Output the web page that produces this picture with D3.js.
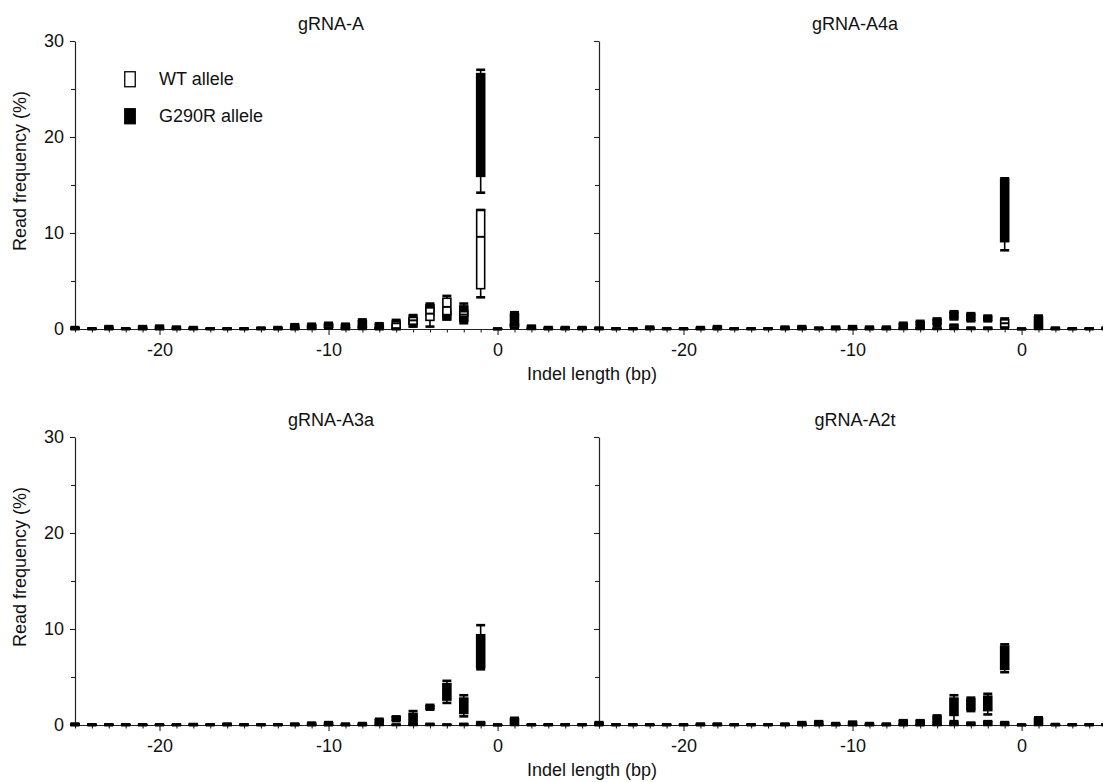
<!DOCTYPE html>
<html><head><meta charset="utf-8">
<script src="https://cdn.jsdelivr.net/npm/d3@7"></script>
<style>
body{margin:0;background:#fff}
svg{display:block}
text{font-family:"Liberation Sans",Arial,Helvetica,sans-serif;fill:#111}
</style>
</head><body>
<svg id="chart" width="1103" height="782"></svg>
<script>
// ---------- data ----------
const indelLengths = [-25,-24,-23,-22,-21,-20,-19,-18,-17,-16,-15,-14,-13,-12,-11,-10,-9,-8,-7,-6,-5,-4,-3,-2,-1,0,1,2,3,4,5];
const xTickValues = [-25,-24,-23,-22,-21,-20,-19,-18,-17,-16,-15,-14,-13,-12,-11,-10,-9,-8,-7,-6,-5,-4,-3,-2,-1,0,1,2,3,4,5,6];
const xLabelTicks = [-20,-10,0];
const yTickValues = [0,5,10,15,20,25,30];
const yLabelTicks = [0,10,20,30];
const panelTitles = ["gRNA-A","gRNA-A4a","gRNA-A3a","gRNA-A2t"];
const seriesNames = ["WT allele","G290R allele"];
const xAxisTitle = "Indel length (bp)";
const yAxisTitle = "Read frequency (%)";

// each entry: [min, q1, median, q3, max] read frequency (%), one per indel length
const gA_WT = [
[0,0,0.02,0.04,0.05],[0,0,0.02,0.04,0.05],[0,0,0.02,0.04,0.05],[0,0,0.02,0.04,0.05],[0,0,0.02,0.04,0.05],
[0,0,0.02,0.04,0.05],[0,0,0.02,0.04,0.05],[0,0,0.02,0.04,0.05],[0,0,0.02,0.04,0.05],[0,0,0.02,0.04,0.05],
[0,0,0.02,0.04,0.05],[0,0,0.02,0.04,0.05],[0,0,0.02,0.04,0.05],[0,0.05,0.1,0.15,0.2],[0.05,0.1,0.2,0.3,0.4],
[0.1,0.2,0.35,0.45,0.55],[0,0.05,0.1,0.15,0.2],[0,0.05,0.1,0.2,0.3],[0,0.05,0.1,0.15,0.2],[0,0.1,0.6,0.8,0.95],
[0.25,0.5,0.9,1.2,1.45],[0.25,0.9,1.6,2.2,2.4],[1.0,1.5,2.3,3.2,3.45],[0.9,1.3,1.5,1.8,2.0],[3.3,4.2,9.6,12.4,12.4],
[0,0,0,0,0],[0.1,0.2,0.35,0.5,0.6],[0,0,0.02,0.04,0.05],[0,0,0.02,0.04,0.05],[0,0,0.02,0.04,0.05],[0,0,0.02,0.04,0.05]
];
const gA_G290R = [
[0,0,0.05,0.15,0.2],[0,0,0,0.03,0.05],[0,0.05,0.15,0.25,0.3],[0,0,0,0.03,0.05],[0,0.05,0.15,0.25,0.3],
[0,0.05,0.2,0.3,0.35],[0,0.05,0.15,0.2,0.25],[0,0.03,0.1,0.15,0.2],[0,0,0,0.03,0.05],[0,0,0,0.03,0.05],
[0,0,0,0.03,0.05],[0,0.03,0.08,0.12,0.15],[0,0.05,0.1,0.15,0.2],[0,0.1,0.25,0.4,0.5],[0,0.1,0.3,0.45,0.55],
[0.05,0.15,0.3,0.55,0.65],[0,0.1,0.3,0.45,0.55],[0.05,0.2,0.5,0.85,1.0],[0,0.1,0.35,0.5,0.6],[0,0.05,0.2,0.4,0.5],
[0.3,0.5,0.8,1.1,1.3],[1.5,1.8,2.1,2.5,2.65],[1.0,1.2,1.5,1.8,2.0],[0.6,0.8,1.6,2.4,2.65],[14.2,15.9,23.2,26.6,27.0],
[0,0,0,0.02,0.05],[0.1,0.3,0.9,1.6,1.75],[0.05,0.1,0.2,0.3,0.35],[0,0.05,0.1,0.15,0.2],[0,0.05,0.1,0.15,0.2],[0,0.05,0.1,0.15,0.2]
];
const gA4a_WT = [
[0,0,0.02,0.04,0.05],[0,0,0.02,0.04,0.05],[0,0,0.02,0.04,0.05],[0,0,0.02,0.04,0.05],[0,0,0.02,0.04,0.05],
[0,0,0.02,0.04,0.05],[0,0,0.02,0.04,0.05],[0,0,0.02,0.04,0.05],[0,0,0.02,0.04,0.05],[0,0,0.02,0.04,0.05],
[0,0,0.02,0.04,0.05],[0,0,0.02,0.04,0.05],[0,0,0.02,0.04,0.05],[0,0,0.02,0.04,0.05],[0,0,0.02,0.04,0.05],
[0,0,0.02,0.04,0.05],[0,0,0.02,0.04,0.05],[0,0,0.02,0.04,0.05],[0,0,0.02,0.04,0.05],[0,0,0.02,0.04,0.05],
[0,0,0.02,0.04,0.05],[0,0.05,0.2,0.4,0.45],[0,0,0.05,0.1,0.15],[0,0,0.05,0.1,0.15],[0.1,0.2,0.6,0.95,1.1],
[0,0,0,0,0],[0,0.05,0.1,0.2,0.25],[0,0,0.02,0.04,0.05],[0,0,0.02,0.04,0.05],[0,0,0.02,0.04,0.05],[0,0,0.02,0.04,0.05]
];
const gA4a_G290R = [
[0,0,0.05,0.1,0.15],[0,0,0,0.03,0.05],[0,0,0,0.03,0.05],[0,0.05,0.1,0.2,0.25],[0,0,0,0.03,0.05],
[0,0,0,0.03,0.05],[0,0.05,0.1,0.15,0.2],[0,0.05,0.15,0.25,0.3],[0,0,0,0.03,0.05],[0,0,0,0.03,0.05],
[0,0,0,0.03,0.05],[0,0.05,0.1,0.2,0.25],[0,0.05,0.15,0.25,0.3],[0,0.03,0.08,0.12,0.15],[0,0.05,0.1,0.2,0.25],
[0,0.05,0.15,0.25,0.3],[0,0.05,0.1,0.2,0.25],[0,0.05,0.1,0.2,0.25],[0.1,0.2,0.4,0.55,0.65],[0.05,0.2,0.5,0.75,0.85],
[0.3,0.5,0.8,1.0,1.1],[1.0,1.1,1.5,1.75,1.85],[0.8,0.9,1.2,1.55,1.65],[0.8,0.9,1.1,1.3,1.4],[8.2,9.1,14.0,15.6,15.7],
[0,0,0,0.02,0.05],[0.05,0.3,0.8,1.25,1.4],[0,0.03,0.08,0.12,0.15],[0,0,0.02,0.04,0.05],[0,0,0.02,0.04,0.05],[0,0,0.05,0.1,0.15]
];
const gA3a_WT = [
[0,0,0.02,0.04,0.05],[0,0,0.02,0.04,0.05],[0,0,0.02,0.04,0.05],[0,0,0.02,0.04,0.05],[0,0,0.02,0.04,0.05],
[0,0,0.02,0.04,0.05],[0,0,0.02,0.04,0.05],[0,0,0.02,0.04,0.05],[0,0,0.02,0.04,0.05],[0,0,0.02,0.04,0.05],
[0,0,0.02,0.04,0.05],[0,0,0.02,0.04,0.05],[0,0,0.02,0.04,0.05],[0,0,0.02,0.04,0.05],[0,0,0.02,0.04,0.05],
[0,0,0.02,0.04,0.05],[0,0,0.02,0.04,0.05],[0,0,0.02,0.04,0.05],[0,0,0.02,0.04,0.05],[0,0,0.02,0.04,0.05],
[0,0.02,0.05,0.1,0.15],[0,0.02,0.05,0.1,0.12],[0,0,0.02,0.04,0.05],[0,0.02,0.05,0.1,0.12],[0,0.05,0.15,0.25,0.3],
[0,0,0,0,0],[0,0,0.02,0.04,0.05],[0,0,0.02,0.04,0.05],[0,0,0.02,0.04,0.05],[0,0,0.02,0.04,0.05],[0,0,0.02,0.04,0.05]
];
const gA3a_G290R = [
[0,0,0.05,0.1,0.15],[0,0,0,0.03,0.05],[0,0,0,0.03,0.05],[0,0,0,0.03,0.05],[0,0,0,0.03,0.05],
[0,0,0,0.03,0.05],[0,0,0,0.03,0.05],[0,0.02,0.05,0.08,0.1],[0,0,0,0.03,0.05],[0,0.03,0.08,0.12,0.15],
[0,0,0,0.03,0.05],[0,0,0,0.03,0.05],[0,0,0.02,0.04,0.05],[0,0.03,0.08,0.12,0.15],[0,0.05,0.1,0.2,0.25],
[0,0.05,0.15,0.25,0.3],[0,0.03,0.08,0.12,0.15],[0,0.05,0.1,0.15,0.2],[0.15,0.25,0.4,0.55,0.65],[0.4,0.5,0.7,0.85,0.9],
[0.1,0.3,0.8,1.2,1.45],[1.6,1.7,1.9,2.0,2.1],[2.3,2.6,3.5,4.3,4.6],[0.9,1.2,2.0,2.8,3.1],[5.8,6.0,7.0,9.4,10.4],
[0,0,0,0.02,0.05],[0.1,0.2,0.4,0.65,0.75],[0,0,0.02,0.04,0.05],[0,0,0.02,0.04,0.05],[0,0,0.02,0.04,0.05],[0,0,0.02,0.04,0.05]
];
const gA2t_WT = [
[0,0,0.02,0.04,0.05],[0,0,0.02,0.04,0.05],[0,0,0.02,0.04,0.05],[0,0,0.02,0.04,0.05],[0,0,0.02,0.04,0.05],
[0,0,0.02,0.04,0.05],[0,0,0.02,0.04,0.05],[0,0,0.02,0.04,0.05],[0,0,0.02,0.04,0.05],[0,0,0.02,0.04,0.05],
[0,0,0.02,0.04,0.05],[0,0,0.02,0.04,0.05],[0,0,0.02,0.04,0.05],[0,0,0.02,0.04,0.05],[0,0,0.02,0.04,0.05],
[0,0,0.02,0.04,0.05],[0,0,0.02,0.04,0.05],[0,0,0.02,0.04,0.05],[0,0,0.02,0.04,0.05],[0,0,0.02,0.04,0.05],
[0,0,0.02,0.04,0.05],[0,0.02,0.1,0.2,0.3],[0,0.02,0.1,0.2,0.25],[0,0.1,0.2,0.35,0.4],[0,0.05,0.15,0.25,0.3],
[0,0,0,0,0],[0,0,0.02,0.04,0.05],[0,0,0.02,0.04,0.05],[0,0,0.02,0.04,0.05],[0,0,0.02,0.04,0.05],[0,0,0.02,0.04,0.05]
];
const gA2t_G290R = [
[0,0.05,0.15,0.25,0.3],[0,0,0,0.03,0.05],[0,0,0,0.03,0.05],[0,0,0,0.03,0.05],[0,0,0,0.03,0.05],
[0,0,0,0.03,0.05],[0,0.03,0.08,0.12,0.15],[0,0.03,0.08,0.12,0.15],[0,0,0,0.03,0.05],[0,0,0,0.03,0.05],
[0,0,0,0.03,0.05],[0,0.03,0.08,0.12,0.15],[0,0.05,0.15,0.25,0.3],[0,0.1,0.25,0.35,0.4],[0,0.05,0.1,0.15,0.2],
[0,0.1,0.2,0.3,0.35],[0,0.05,0.1,0.15,0.2],[0,0.03,0.08,0.12,0.15],[0,0.1,0.3,0.45,0.5],[0,0.1,0.3,0.45,0.5],
[0.2,0.3,0.6,0.9,1.0],[0.4,1.0,1.8,2.8,3.1],[1.45,1.6,2.2,2.7,2.85],[1.1,1.5,2.3,3.0,3.25],[5.5,5.8,6.6,8.2,8.4],
[0,0,0,0.02,0.05],[0.05,0.2,0.5,0.7,0.8],[0,0.02,0.05,0.08,0.1],[0,0,0.02,0.04,0.05],[0,0,0.02,0.04,0.05],[0,0,0.02,0.04,0.05]
];

const panelData = [
  {wt: gA_WT,   mut: gA_G290R},
  {wt: gA4a_WT, mut: gA4a_G290R},
  {wt: gA3a_WT, mut: gA3a_G290R},
  {wt: gA2t_WT, mut: gA2t_G290R}
];

// ---------- layout ----------
const svg = d3.select("#chart");
const FONT = 18;
const plotW = 524, plotH = 288;
const layout = [
  {left: 75,  top: 41,  showY: true},
  {left: 599, top: 41,  showY: false},
  {left: 75,  top: 437, showY: true},
  {left: 599, top: 437, showY: false}
];
const x = d3.scaleLinear().domain([-25, 6]).range([0, plotW]);
const y = d3.scaleLinear().domain([0, 30]).range([plotH, 0]);
const boxW = 8, capW = 9;

svg.append("rect").attr("width",1103).attr("height",782).attr("fill","#fff");

function drawBoxes(g, data, fill) {
  const grp = g.append("g");
  const sel = grp.selectAll("g.bx").data(data.map((d,i)=>({k: indelLengths[i], v: d}))).enter().append("g").attr("class","bx")
    .attr("transform", d => `translate(${x(d.k)},0)`);
  sel.append("line").attr("x1",0).attr("x2",0)
    .attr("y1", d => y(d.v[0])).attr("y2", d => y(d.v[4]))
    .attr("stroke","#000").attr("stroke-width",1.6);
  sel.append("rect").attr("x",-boxW/2).attr("width",boxW)
    .attr("y", d => y(d.v[3])).attr("height", d => Math.max(0, y(d.v[1]) - y(d.v[3])))
    .attr("fill", fill).attr("stroke","#000").attr("stroke-width",1.6);
  sel.append("line").attr("x1",-boxW/2).attr("x2",boxW/2)
    .attr("y1", d => y(d.v[2])).attr("y2", d => y(d.v[2]))
    .attr("stroke","#000").attr("stroke-width",2);
  [0,4].forEach(idx => {
    sel.append("line").attr("x1",-capW/2).attr("x2",capW/2)
      .attr("y1", d => y(d.v[idx])).attr("y2", d => y(d.v[idx]))
      .attr("stroke","#000").attr("stroke-width",2.6);
  });
}

layout.forEach((p, i) => {
  const g = svg.append("g").attr("transform", `translate(${p.left},${p.top})`);

  // x axis
  const xa = g.append("g").attr("transform", `translate(0,${plotH})`)
    .call(d3.axisBottom(x).tickValues(xTickValues).tickSizeInner(3).tickSizeOuter(0)
      .tickFormat(d => xLabelTicks.includes(d) ? d3.format("d")(d).replace("−","-") : ""));
  xa.select(".domain").attr("stroke","#222").attr("stroke-width",1.2);
  xa.selectAll(".tick line").attr("stroke","#222").attr("stroke-width",1.1)
    .attr("y2", d => xLabelTicks.includes(d) ? 6 : 3.5);
  xa.selectAll(".tick text").attr("y",14).attr("font-size",FONT).attr("fill","#111")
    .style("font-family",'"Liberation Sans",Arial,sans-serif');

  // y axis
  const ya = g.append("g")
    .call(d3.axisLeft(y).tickValues(yTickValues).tickSizeInner(4).tickSizeOuter(0)
      .tickFormat(d => (p.showY && yLabelTicks.includes(d)) ? d : ""));
  ya.select(".domain").attr("stroke","#222").attr("stroke-width",1.2);
  ya.selectAll(".tick line").attr("stroke","#222").attr("stroke-width",1.1)
    .attr("x2", d => yLabelTicks.includes(d) ? -5 : -4);
  ya.selectAll(".tick text").attr("x",-11).attr("font-size",FONT).attr("fill","#111")
    .style("font-family",'"Liberation Sans",Arial,sans-serif');

  // title
  g.append("text").attr("x", 256).attr("y", -17).attr("dy","0.35em")
    .attr("text-anchor","middle").attr("font-size",FONT).text(panelTitles[i]);

  // boxes: G290R first, WT on top
  drawBoxes(g, panelData[i].mut, "#000");
  drawBoxes(g, panelData[i].wt, "#fff");

  // y axis title on left panels
  if (p.showY) {
    svg.append("text")
      .attr("transform", `translate(20,${p.top + plotH/2 - 14}) rotate(-90)`)
      .attr("dy","0.35em").attr("text-anchor","middle").attr("font-size",FONT).text(yAxisTitle);
  }
});

// x axis titles (one per row, centred between panels)
[41, 437].forEach(top => {
  svg.append("text").attr("x", 592).attr("y", top + plotH + 45).attr("dy","0.35em")
    .attr("text-anchor","middle").attr("font-size",FONT).text(xAxisTitle);
});

// legend in first panel
const legend = svg.append("g").attr("transform","translate(124,71)");
const legendFills = ["#fff","#000"];
seriesNames.forEach((name, i) => {
  const row = legend.append("g").attr("transform", `translate(0,${i*37})`);
  row.append("rect").attr("x",0.75).attr("y",0.75).attr("width",10.5).attr("height",15)
    .attr("fill", legendFills[i]).attr("stroke","#000").attr("stroke-width",1.3);
  row.append("text").attr("x",35).attr("y",8).attr("dy","0.35em").attr("font-size",FONT).text(name);
});
</script>
</body></html>
